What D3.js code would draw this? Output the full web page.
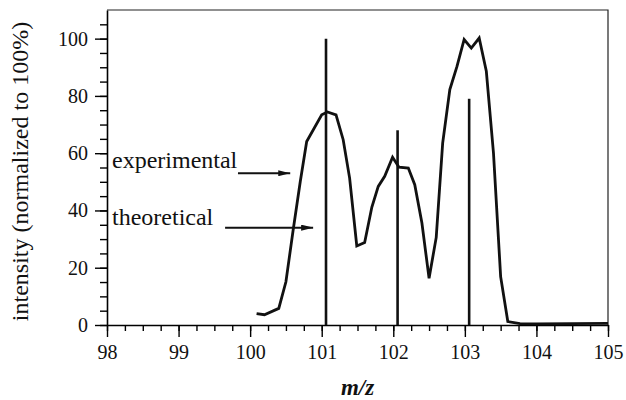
<!DOCTYPE html>
<html>
<head>
<meta charset="utf-8">
<script src="https://cdn.jsdelivr.net/npm/d3@7"></script>
<style>
  body { margin: 0; background: #fff; }
  svg { display: block; font-family: "Liberation Serif", "Times New Roman", serif; }
</style>
</head>
<body>
<div id="chart"></div>
<script>
// Experimental spectrum (m/z, intensity %)
const expMz = [100.09, 100.2, 100.4, 100.5, 100.6, 100.7, 100.79, 101.0, 101.08, 101.2, 101.3, 101.39, 101.49,
  101.6, 101.7, 101.79, 101.88, 101.99, 102.08, 102.21, 102.3, 102.4, 102.5, 102.6, 102.69, 102.79, 102.89,
  102.99, 103.09, 103.2, 103.3, 103.4, 103.5, 103.6, 103.77, 104.0, 104.5, 105.0];
const expInt = [4.0, 3.6, 5.8, 15.1, 33, 50, 64.1, 73.4, 74.4, 73.4, 64.7, 51.3, 27.6,
  28.8, 41.1, 48.4, 51.9, 58.6, 55.1, 54.8, 49, 35.6, 16.3, 30.6, 63.5, 82.2, 90.3,
  99.7, 96.7, 100.2, 88.6, 60, 16.9, 1.2, 0.5, 0.4, 0.5, 0.6];

// Theoretical isotope sticks
const theoMz = [101.06, 102.06, 103.06];
const theoInt = [100, 68, 79];

const xTicks = [98, 99, 100, 101, 102, 103, 104, 105];
const yTicks = [0, 20, 40, 60, 80, 100];

const serif = '"Liberation Serif", "Times New Roman", serif';
const width = 626, height = 400;
const margins = {top: 10, right: 18, bottom: 75, left: 107};

const svg = d3.select("#chart")
  .append("svg")
  .attr("width", width)
  .attr("height", height);

const xScale = d3.scaleLinear()
  .domain([98, 105])
  .range([margins.left, width - margins.right]);

const yScale = d3.scaleLinear()
  .domain([0, 110])
  .range([height - margins.bottom, margins.top]);

// frame (top and right)
svg.append("path")
  .attr("d", `M${xScale(98)},${yScale(110)}H${xScale(105)}V${yScale(0)}`)
  .attr("fill", "none")
  .attr("stroke", "#222")
  .attr("stroke-width", 1.2);

// minor ticks
svg.append("g")
    .attr("transform", `translate(0,${yScale(0)})`)
  .call(d3.axisBottom(xScale).tickValues(d3.range(98, 105.01, 0.25)).tickSize(6).tickFormat(""))
  .call(g => g.select(".domain").remove())
  .selectAll("line").attr("stroke-width", 1.3);

svg.append("g")
    .attr("transform", `translate(${xScale(98)},0)`)
  .call(d3.axisLeft(yScale).tickValues(d3.range(0, 106, 5)).tickSize(7).tickFormat(""))
  .call(g => g.select(".domain").remove())
  .selectAll("line").attr("stroke-width", 1.3);

// major axes
const xGroup = svg.append("g")
    .attr("transform", `translate(0,${yScale(0)})`)
  .call(d3.axisBottom(xScale).tickValues(xTicks).tickSize(12).tickSizeOuter(0).tickPadding(8).tickFormat(d3.format("d")));

xGroup.selectAll("text")
  .style("font-family", serif)
  .style("font-size", "20px")
  .attr("fill", "#111");

const yGroup = svg.append("g")
    .attr("transform", `translate(${xScale(98)},0)`)
  .call(d3.axisLeft(yScale).tickValues(yTicks).tickSize(12).tickSizeOuter(0).tickPadding(7));

yGroup.selectAll("text")
  .style("font-family", serif)
  .style("font-size", "20px")
  .attr("fill", "#111");

svg.selectAll(".domain").attr("stroke-width", 1.6);
svg.selectAll(".tick line").attr("stroke-width", 1.4);

// theoretical sticks
svg.append("g")
  .selectAll("line")
  .data(theoMz.map((mz, i) => ({mz, v: theoInt[i]})))
  .join("line")
    .attr("x1", d => xScale(d.mz))
    .attr("x2", d => xScale(d.mz))
    .attr("y1", yScale(0))
    .attr("y2", d => yScale(d.v))
    .attr("stroke", "#111")
    .attr("stroke-width", 2.6);

// experimental curve
const line = d3.line()
  .x(d => xScale(d.mz))
  .y(d => yScale(d.v));

svg.append("path")
  .datum(expMz.map((mz, i) => ({mz, v: expInt[i]})))
  .attr("d", line)
  .attr("fill", "none")
  .attr("stroke", "#111")
  .attr("stroke-width", 2.8)
  .attr("stroke-linejoin", "miter");

// labels with arrows
svg.append("defs").append("marker")
    .attr("id", "arrow")
    .attr("viewBox", "0 0 12 6")
    .attr("refX", 12).attr("refY", 3)
    .attr("markerWidth", 12).attr("markerHeight", 6)
    .attr("markerUnits", "userSpaceOnUse")
    .attr("orient", "auto")
  .append("path")
    .attr("d", "M0,0L12,3L0,6Z")
    .attr("fill", "#111");

const notes = [
  {label: "experimental", x0: 99.83, x1: 100.56, y: 53, ty: 55},
  {label: "theoretical", x0: 99.65, x1: 100.88, y: 34, ty: 35}
];

notes.forEach(n => {
  svg.append("text")
    .attr("x", xScale(98) + 5)
    .attr("y", yScale(n.ty))
    .style("font-size", "24px")
    .attr("fill", "#111")
    .text(n.label);
  svg.append("line")
    .attr("x1", xScale(n.x0)).attr("x2", xScale(n.x1))
    .attr("y1", yScale(n.y)).attr("y2", yScale(n.y))
    .attr("stroke", "#111")
    .attr("stroke-width", 2)
    .attr("marker-end", "url(#arrow)");
});

// axis titles
svg.append("text")
  .attr("transform", `translate(28,${(yScale(0) + yScale(110)) / 2 + 4}) rotate(-90)`)
  .attr("text-anchor", "middle")
  .style("font-size", "24px")
  .attr("fill", "#111")
  .text("intensity (normalized to 100%)");

svg.append("text")
  .attr("x", xScale(101.5))
  .attr("y", 395)
  .attr("text-anchor", "middle")
  .style("font-size", "23px")
  .style("font-weight", "bold")
  .style("font-style", "italic")
  .attr("fill", "#111")
  .text("m/z");
</script>
</body>
</html>
